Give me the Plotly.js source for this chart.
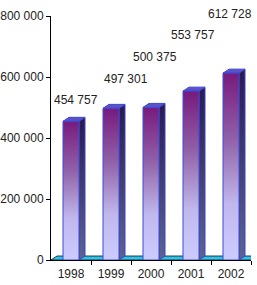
<!DOCTYPE html>
<html><head><meta charset="utf-8">
<script src="https://cdn.plot.ly/plotly-3.0.1.min.js"></script>
<style>html,body{margin:0;padding:0;background:#fff}#c{width:257px;height:285px}</style>
</head><body><div id="c"></div>
<script>
const years = ['1998', '1999', '2000', '2001', '2002'];
const values = [454757, 497301, 500375, 553757, 612728];
const valueLabels = ['454 757', '497 301', '500 375', '553 757', '612 728'];
const yTickVals = [0, 200000, 400000, 600000, 800000];
const yTickText = ['0', '200 000', '400 000', '600 000', '800 000'];

// label placement (layout only)
const labelDx = [0.12, 0.38, 0.11, 0.06, -0.03];
const labelPaperY = [0.656, 0.742, 0.832, 0.922, 1.008];

const half = 0.2, dx = 0.15, dy = 13000;
const traces = [];
// floor
traces.push({x:[-0.5, 4.5, 4.5+dx, -0.5+dx, -0.5], y:[0, 0, dy, dy, 0], mode:'lines', fill:'toself',
  fillcolor:'#2ec4ea', line:{color:'#1a3a50', width:1}, hoverinfo:'skip', showlegend:false});
values.forEach((v, i) => {
  const l = i - half, r = i + half;
  // side
  traces.push({x:[r, r+dx, r+dx, r, r], y:[0, dy, v+dy, v, 0], mode:'lines', fill:'toself',
    fillgradient:{type:'vertical', colorscale:[[0,'#5c6494'],[1,'#2a1c52']], start:0, stop:v},
    line:{color:'#3a44c0', width:1}, hoverinfo:'skip', showlegend:false});
  // top
  traces.push({x:[l, r, r+dx, l+dx, l], y:[v, v, v+dy, v+dy, v], mode:'lines', fill:'toself',
    fillcolor:'#5a52c8', line:{color:'#3a48d0', width:1}, hoverinfo:'skip', showlegend:false});
  // front
  traces.push({x:[l, r, r, l, l], y:[0, 0, v, v, 0], mode:'lines', fill:'toself',
    fillgradient:{type:'vertical', colorscale:[[0,'#ccccff'],[0.3,'#c0b8ec'],[0.65,'#9060a8'],[1,'#781a7e']], start:0, stop:v},
    line:{color:'#3c4cd4', width:1}, hoverinfo:'skip', showlegend:false});
});

const annotations = values.map((v, i) => ({
  x: i + labelDx[i], xref:'x', y: labelPaperY[i], yref:'paper', text: valueLabels[i],
  showarrow:false, font:{family:'Liberation Sans, Arial, sans-serif', size:12, color:'#222'},
  xanchor:'center', yanchor:'middle'
}));

const layout = {
  width:257, height:285,
  margin:{l:51, r:6, t:16, b:25},
  paper_bgcolor:'#fff', plot_bgcolor:'#fff',
  showlegend:false,
  font:{family:'Liberation Sans, Arial, sans-serif', size:12, color:'#222'},
  xaxis:{range:[-0.5, 4.5], tickvals:[0,1,2,3,4], ticktext:years, ticks:'', showgrid:false, zeroline:false,
    showline:true, linecolor:'#000', linewidth:1, fixedrange:true, ticklabelstandoff:3,
    minor:{tickmode:'array', tickvals:[0.5,1.5,2.5,3.5,4.5], ticks:'outside', ticklen:4, tickcolor:'#000', showgrid:false}},
  yaxis:{range:[0, 800000], tickvals:yTickVals, ticktext:yTickText, ticks:'outside', ticklen:4, tickcolor:'#000',
    showgrid:false, zeroline:false, showline:true, linecolor:'#000', linewidth:1, fixedrange:true},
  annotations: annotations
};
Plotly.newPlot('c', traces, layout, {displayModeBar:false, staticPlot:true});
</script></body></html>
